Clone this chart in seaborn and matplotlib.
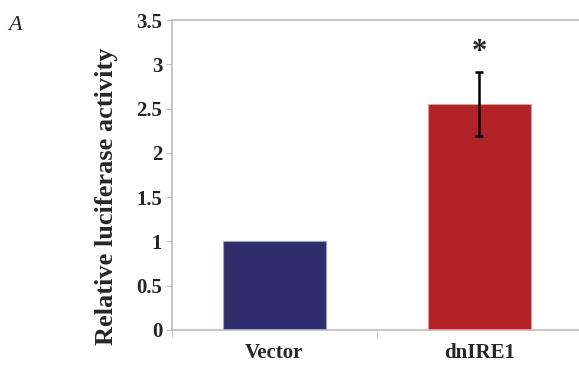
import pandas as pd
import seaborn as sns
import matplotlib.pyplot as plt

# values
groups = ['Vector', 'dnIRE1']
activity = [1.0, 2.55]
err = [0.0, 0.36]
bar_colors = ['#2f2e6c', '#b22328']
yticks = [0, 0.5, 1, 1.5, 2, 2.5, 3, 3.5]
ytick_labels = ['0', '0.5', '1', '1.5', '2', '2.5', '3', '3.5']

df = pd.DataFrame({'group': groups, 'activity': activity})

sns.set_style('white')
plt.rcParams['font.family'] = ['Liberation Serif', 'DejaVu Serif']

fig = plt.figure(figsize=(5.79, 3.65), dpi=100)
ax = fig.add_axes([0.297, 0.096, 0.708, 0.849])

sns.barplot(data=df, x='group', y='activity', hue='group', palette=bar_colors,
            saturation=1, width=0.5, legend=False, ax=ax, errorbar=None,
            linewidth=0.8, edgecolor='#9aa0c8')
ax.patches[1].set_edgecolor('#e89a9a')

# error bar on dnIRE1 only
ax.errorbar(1, activity[1], yerr=err[1], fmt='none', ecolor='black',
            elinewidth=1.8, capsize=3, capthick=1.8)
ax.text(1, activity[1] + err[1] + 0.22, '*', ha='center', va='center',
        fontsize=22, fontweight='bold')

ax.set_xlim(-0.5, 1.5)
ax.set_ylim(0, 3.5)
ax.set_yticks(yticks)
ax.set_yticklabels(ytick_labels, fontsize=15, fontweight='bold')
ax.set_xticks([0, 1])
ax.set_xticklabels(groups, fontsize=15, fontweight='bold')
ax.set_xlabel('')
ax.set_ylabel('Relative luciferase activity', fontsize=19, fontweight='bold')
ax.yaxis.set_label_coords(-0.132, 0.432)

for side in ['left', 'bottom', 'top']:
    ax.spines[side].set_visible(True)
    ax.spines[side].set_color('#bdbdbd')
    ax.spines[side].set_linewidth(1.2)
ax.spines['right'].set_visible(False)

ax.tick_params(axis='y', which='both', left=True, length=4, color='#bdbdbd', pad=3)
ax.tick_params(axis='x', bottom=False, pad=6)
# category separator ticks on the x axis
ax.set_xticks([-0.5, 0.5, 1.5], minor=True)
ax.tick_params(axis='x', which='minor', bottom=True, length=5, color='#bdbdbd')

fig.text(0.015, 0.93, 'A', fontsize=16, fontstyle='italic', ha='left', va='center')

fig.savefig('out.png', dpi=100)
